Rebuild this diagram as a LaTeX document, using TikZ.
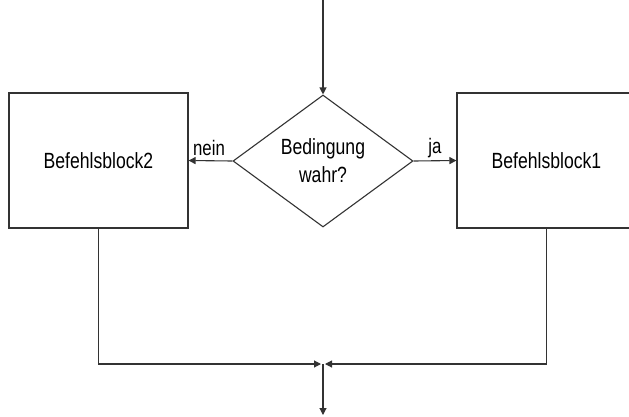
\documentclass[tikz,border=0pt]{standalone}
\usepackage{fontspec}
\setmainfont{Liberation Sans}[FakeStretch=0.8]
\usetikzlibrary{shapes.geometric,arrows.meta}
\begin{document}
\begin{tikzpicture}[x=1pt,y=-1pt,
  line width=1.1pt,
  ink/.style={draw=black!80},
  block/.style={ink, rectangle, minimum width=179pt, minimum height=135pt,
    inner sep=0pt, font=\fontsize{22}{28}\selectfont},
  decision/.style={ink, diamond, aspect=1.36, minimum width=180pt,
    minimum height=132pt, inner sep=0pt, align=center,
    font=\fontsize{22}{28}\selectfont},
  flow/.style={ink, -{Triangle[length=7pt,width=7pt]}},
  lbl/.style={font=\fontsize{21}{24}\selectfont, inner sep=0pt}]
  \useasboundingbox (0,0) rectangle (629,416);
  \clip (0,0) rectangle (629,416);
  \fill[white] (0,0) rectangle (629,416);

  % decision and the two branches
  \node[decision] (cond) at (323,161) {Bedingung\\wahr?};
  \node[block] (b2) at (98.5,160.5) {Befehlsblock2};
  \node[block] (b1) at (546.5,160.5) {Befehlsblock1};

  \coordinate (start) at (323,0);
  \coordinate (merge) at (323,364);
  \coordinate (stop) at (323,415);

  % entry arrow
  \draw[flow] (start) -- (cond.north);

  % branch arrows with labels
  \draw[flow] (cond.west) -- (b2.east);
  \draw[flow] (cond.east) -- (b1.west);
  \node[lbl] (nein) at (209,148) {nein};
  \node[lbl] (ja) at (435,148) {ja};

  % joining both branches
  \draw[flow, shorten >=2pt] (b2.south) |- (merge);
  \draw[flow, shorten >=2pt] (b1.south) |- (merge);
  \draw[flow] (merge) -- (stop);
\end{tikzpicture}
\end{document}
